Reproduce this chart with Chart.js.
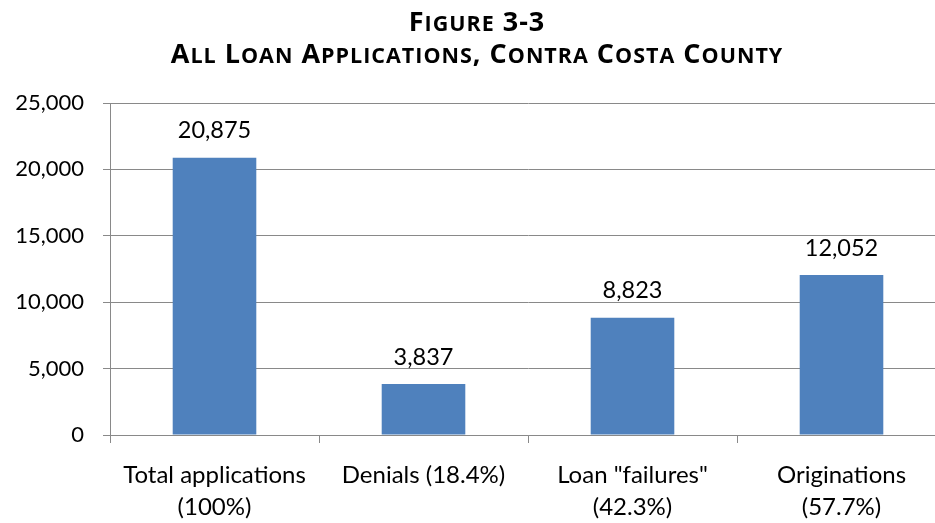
<!DOCTYPE html>
<html>
<head>
<meta charset="utf-8">
<script src="https://cdn.jsdelivr.net/npm/chart.js@4"></script>
<style>
  html, body { margin: 0; padding: 0; background: #fff; overflow: hidden; }
  #wrap { position: relative; width: 935px; height: 523px; overflow: hidden; }
  #title {
    position: absolute; left: 0; top: 6px; width: 954px;
    text-align: center; font-family: "Open Sans", sans-serif; font-weight: bold;
    font-size: 27px; line-height: 30px; letter-spacing: 1px; color: #000;
  }
  #title .sc { font-size: 21.5px; }
  #chart { position: absolute; left: 0; top: 0; }
</style>
</head>
<body>
<div id="wrap">
  <canvas id="chart" width="954" height="523" style="width:954px;height:523px"></canvas>
  <div id="title">F<span class="sc">IGURE</span> 3-3<br>A<span class="sc">LL</span> L<span class="sc">OAN</span> A<span class="sc">PPLICATIONS</span>, C<span class="sc">ONTRA</span> C<span class="sc">OSTA</span> C<span class="sc">OUNTY</span></div>
</div>
<script>
// categories and values
const categories = [
  ['Total applications', '(100%)'],
  ['Denials (18.4%)'],
  ['Loan "failures"', '(42.3%)'],
  ['Originations', '(57.7%)']
];
const loanCounts = [20875, 3837, 8823, 12052];
const yTicks = [0, 5000, 10000, 15000, 20000, 25000];

const gridGray = '#898989';

// draw value labels above each bar
const valueLabels = {
  id: 'valueLabels',
  afterDatasetsDraw(chart) {
    const ctx = chart.ctx;
    const meta = chart.getDatasetMeta(0);
    ctx.save();
    ctx.font = '23.5px Lato, sans-serif';
    ctx.fillStyle = '#000';
    ctx.textAlign = 'center';
    ctx.textBaseline = 'middle';
    meta.data.forEach(function (bar, i) {
      ctx.fillText(loanCounts[i].toLocaleString('en-US'), bar.x, bar.y - 27);
    });
    ctx.restore();
  }
};

const ctx = document.getElementById('chart').getContext('2d');
new Chart(ctx, {
  type: 'bar',
  data: {
    labels: categories,
    datasets: [{
      data: loanCounts,
      backgroundColor: '#4F81BD',
      borderWidth: 0,
      barPercentage: 0.4,
      categoryPercentage: 1
    }]
  },
  options: {
    responsive: false,
    animation: false,
    devicePixelRatio: 1,
    layout: { padding: { top: 103, right: 8, left: 0, bottom: 0 } },
    plugins: {
      legend: { display: false },
      tooltip: { enabled: false }
    },
    scales: {
      x: {
        grid: {
          drawOnChartArea: false,
          color: gridGray,
          tickLength: 8,
          offset: true
        },
        border: { color: gridGray, width: 1 },
        ticks: {
          color: '#000',
          font: { family: 'Lato, sans-serif', size: 24, lineHeight: 1.3 },
          padding: 17,
          maxRotation: 0,
          autoSkip: false
        },
        afterFit(scale) { scale.height = 88; }
      },
      y: {
        min: 0,
        max: 25000,
        afterBuildTicks(scale) {
          scale.ticks = yTicks.map(function (v) { return { value: v }; });
        },
        grid: { color: gridGray, tickLength: 7 },
        border: { color: gridGray, width: 1 },
        ticks: {
          color: '#000',
          font: { family: 'Lato, sans-serif', size: 22 },
          padding: 19,
          callback: function (v) { return v.toLocaleString('en-US'); }
        },
        afterFit(scale) { scale.width = 110; }
      }
    }
  },
  plugins: [valueLabels]
});
</script>
</body>
</html>
